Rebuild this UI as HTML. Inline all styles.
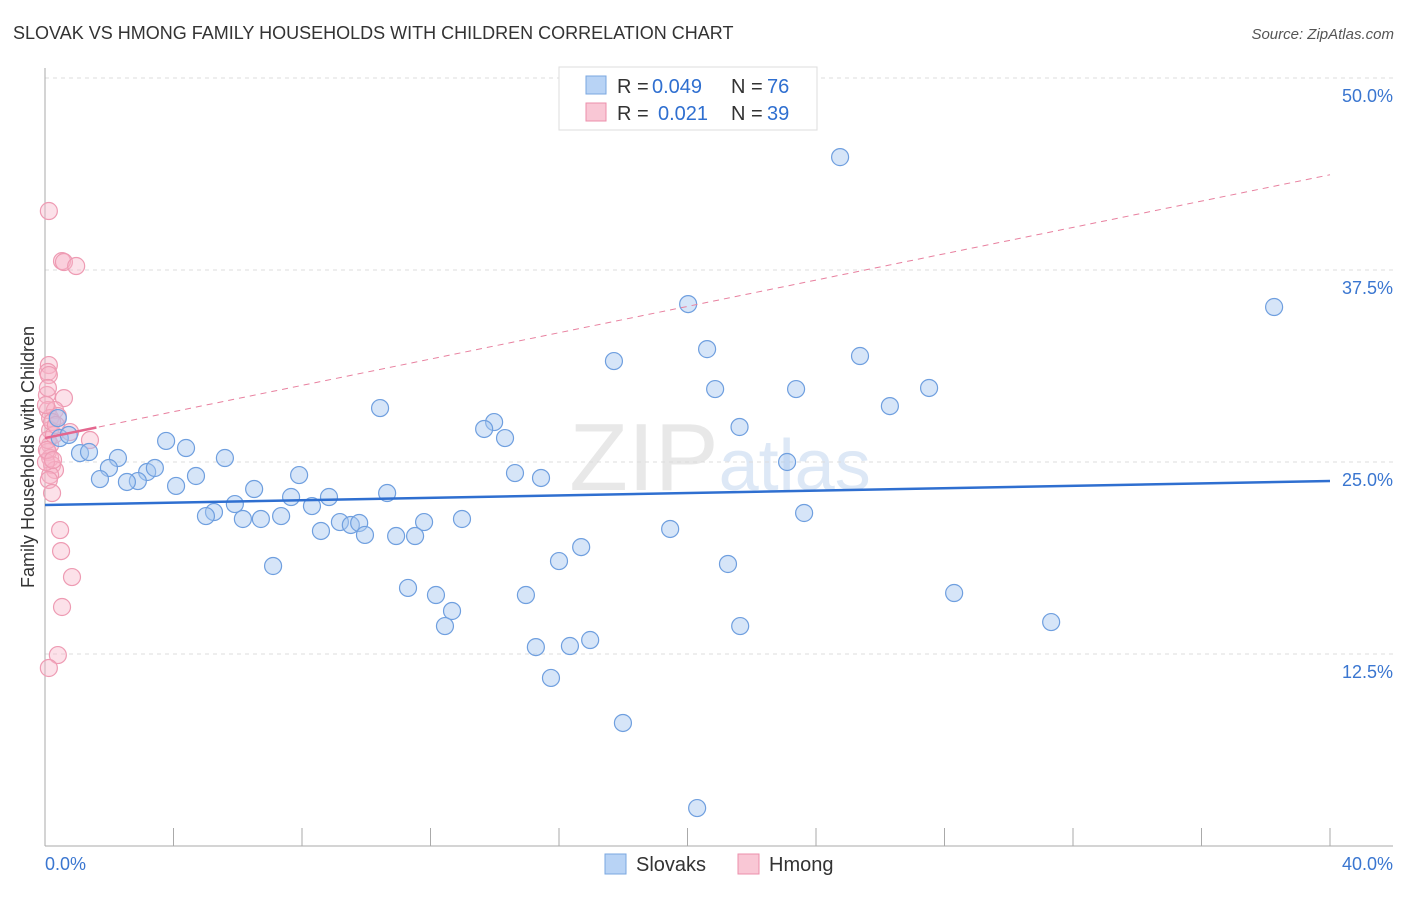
<!DOCTYPE html>
<html><head><meta charset="utf-8"><style>
body{margin:0;background:#fff;font-family:"Liberation Sans",sans-serif;}
svg text{font-family:"Liberation Sans",sans-serif;}
</style></head><body>
<svg width="1406" height="892" id="chart">
<text x="13" y="39" font-size="18" fill="#333">SLOVAK VS HMONG FAMILY HOUSEHOLDS WITH CHILDREN CORRELATION CHART</text>
<text x="1394" y="39" font-size="15" fill="#555" text-anchor="end" font-style="italic">Source: ZipAtlas.com</text>
<text x="0" y="0" transform="translate(34,457) rotate(-90)" font-size="18" fill="#333" text-anchor="middle">Family Households with Children</text>
<text x="720" y="490" font-size="96" fill="#ebebeb" text-anchor="middle" font-family="Liberation Serif"><tspan fill="#e8e8e8">ZIP</tspan><tspan fill="#dde8f6" font-family="Liberation Sans" font-size="72">atlas</tspan></text>
<g id="grid"></g><g id="axes"></g><g id="marks"></g>
<g>
<rect x="559" y="67" width="258" height="63" fill="#fff" stroke="#ddd"/>
<rect x="586" y="76" width="20" height="18" fill="#b8d3f5" stroke="#7aa7e0"/>
<text x="617" y="93" font-size="20" fill="#333">R =</text>
<text x="652" y="93" font-size="20" fill="#2f6fd0">0.049</text>
<text x="731" y="93" font-size="20" fill="#333">N =</text>
<text x="767" y="93" font-size="20" fill="#2f6fd0">76</text>
<rect x="586" y="103" width="20" height="18" fill="#f9c7d5" stroke="#ec8fab"/>
<text x="617" y="120" font-size="20" fill="#333">R =</text>
<text x="658" y="120" font-size="20" fill="#2f6fd0">0.021</text>
<text x="731" y="120" font-size="20" fill="#333">N =</text>
<text x="767" y="120" font-size="20" fill="#2f6fd0">39</text>
</g>
<g>
<rect x="605" y="854" width="21" height="20" fill="#b8d3f5" stroke="#7aa7e0"/>
<text x="636" y="871" font-size="20" fill="#333">Slovaks</text>
<rect x="738" y="854" width="21" height="20" fill="#f9c7d5" stroke="#ec8fab"/>
<text x="769" y="871" font-size="20" fill="#333">Hmong</text>
</g>
</svg>
<script>
const yTicks=[12.5,25,37.5,50];
const yTickLabels=["12.5%","25.0%","37.5%","50.0%"];
const xTickVals=[0,4,8,12,16,20,24,28,32,36,40];
const slovakX=[24.75,20.02,38.26,20.61,17.71,25.37,20.86,23.38,27.52,26.30,10.43,13.98,13.67,14.32,21.62,0.40,0.46,0.74,3.77,4.39,1.09,1.37,2.27,5.60,1.99,3.18,3.42,2.89,2.55,1.71,4.70,4.08,7.91,14.63,15.44,23.10,6.51,10.65,7.66,8.84,5.91,8.31,5.26,5.01,6.16,6.72,7.35,12.98,23.63,9.18,9.52,9.78,11.80,8.59,9.96,10.93,11.52,19.46,16.69,16.00,21.26,7.10,11.30,12.17,14.97,12.67,12.45,28.30,31.32,21.64,15.28,16.34,16.97,15.75,17.99,20.30];
const slovakY=[44.85,35.28,35.09,32.35,31.57,31.90,29.75,29.75,29.82,28.64,28.51,27.60,27.15,26.56,27.28,27.86,26.56,26.76,26.37,25.91,25.58,25.65,25.26,25.26,24.61,24.35,24.61,23.76,23.70,23.89,24.09,23.44,24.15,24.28,23.96,25.00,23.24,22.98,22.72,22.72,22.26,22.13,21.74,21.48,21.29,21.29,21.48,21.29,21.68,21.09,20.90,21.03,21.09,20.51,20.25,20.18,20.18,20.64,19.46,18.55,18.36,18.23,16.80,16.34,16.34,15.30,14.32,16.47,14.58,14.32,12.95,13.02,13.41,10.94,8.01,2.47];
const hmongX=[0.12,0.53,0.59,0.97,0.12,0.09,0.12,0.06,0.59,0.09,0.31,0.16,0.40,0.16,0.78,1.40,0.16,0.09,0.16,0.22,0.31,0.16,0.12,0.22,0.47,0.50,0.84,0.53,0.40,0.12,0.09,0.22,0.03,0.06,0.28,0.34,0.03,0.09,0.25];
const hmongY=[41.34,38.08,38.02,37.76,31.31,30.86,30.66,29.36,29.16,28.38,28.38,27.86,27.99,27.08,26.95,26.43,26.11,25.65,25.26,24.80,24.48,24.15,23.83,22.98,20.57,19.20,17.51,15.56,12.43,11.59,26.43,27.60,25.00,25.78,26.76,27.41,28.71,29.82,25.13];
const slovakTrend=[22.2,23.76];
const hmongTrend=[26.56,43.7];
const NS="http://www.w3.org/2000/svg";
const X=v=>45+v/40*1285, Y=v=>846-v/50*768;
function mk(t,a,p){const e=document.createElementNS(NS,t);for(const k in a)e.setAttribute(k,a[k]);p.appendChild(e);return e;}
const grid=document.getElementById('grid'),axes=document.getElementById('axes'),marks=document.getElementById('marks');
yTicks.forEach((v,i)=>{
 const l=mk('line',{x1:45,x2:1393,y1:Y(v),y2:Y(v),stroke:'#ddd','stroke-dasharray':'4,4'},grid);
 
 
 const t=mk('text',{x:1393,y:Y(v)+24,'font-size':18,fill:'#3a76d0','text-anchor':'end'},axes);
 t.textContent=yTickLabels[i];
 
 
});
let a=mk('line',{x1:45,x2:45,y1:68,y2:846,stroke:'#aaa'},axes);


a=mk('line',{x1:45,x2:1393,y1:846,y2:846,stroke:'#aaa'},axes);


xTickVals.forEach(v=>{
 const l=mk('line',{x1:X(v),x2:X(v),y1:828,y2:846,stroke:'#aaa'},axes);
 
 
});
let t=mk('text',{x:45,y:870,'font-size':18,fill:'#3a76d0'},axes);t.textContent='0.0%';


t=mk('text',{x:1393,y:870,'font-size':18,fill:'#3a76d0','text-anchor':'end'},axes);t.textContent='40.0%';


hmongX.forEach((x,i)=>{
 const c=mk('circle',{cx:X(x),cy:Y(hmongY[i]),r:8.5,fill:'rgba(248,180,200,0.4)',stroke:'#ee9bb3','stroke-width':1.2},marks);
 
 
});
slovakX.forEach((x,i)=>{
 const c=mk('circle',{cx:X(x),cy:Y(slovakY[i]),r:8.5,fill:'rgba(165,198,240,0.45)',stroke:'#6f9fdf','stroke-width':1.2},marks);
 
 
});
let tl=mk('line',{x1:X(0),x2:X(40),y1:Y(hmongTrend[0]),y2:Y(hmongTrend[1]),stroke:'#e8809f','stroke-dasharray':'6,5','stroke-width':1},marks);


const hs=(hmongTrend[1]-hmongTrend[0])/40;
tl=mk('line',{x1:X(0),x2:X(1.6),y1:Y(hmongTrend[0]),y2:Y(hmongTrend[0]+hs*1.6),stroke:'#e4678f','stroke-width':2.5},marks);


tl=mk('line',{x1:X(0),x2:X(40),y1:Y(slovakTrend[0]),y2:Y(slovakTrend[1]),stroke:'#2f6fd0','stroke-width':2.5},marks);


</script>
</body></html>
